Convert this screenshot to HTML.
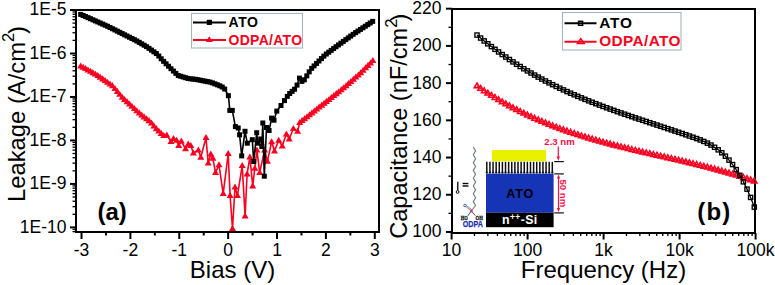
<!DOCTYPE html>
<html><head><meta charset="utf-8"><style>
html,body{margin:0;padding:0;background:#fff;width:775px;height:285px;overflow:hidden}
</style></head><body>
<svg width="775" height="285" viewBox="0 0 775 285" style="position:absolute;left:0;top:0">
<rect x="0" y="0" width="775" height="285" fill="#fff"/>
<g stroke="#000" stroke-width="2" fill="none">
<rect x="76" y="10" width="303" height="222"/>
<line x1="70" y1="10.00" x2="76" y2="10.00"/>
<line x1="70" y1="53.48" x2="76" y2="53.48"/>
<line x1="70" y1="96.96" x2="76" y2="96.96"/>
<line x1="70" y1="140.44" x2="76" y2="140.44"/>
<line x1="70" y1="183.92" x2="76" y2="183.92"/>
<line x1="70" y1="227.40" x2="76" y2="227.40"/>
</g>
<g stroke="#000" stroke-width="1.3" fill="none">
<line x1="72.5" y1="40.39" x2="76" y2="40.39"/>
<line x1="72.5" y1="32.73" x2="76" y2="32.73"/>
<line x1="72.5" y1="27.30" x2="76" y2="27.30"/>
<line x1="72.5" y1="23.09" x2="76" y2="23.09"/>
<line x1="72.5" y1="19.65" x2="76" y2="19.65"/>
<line x1="72.5" y1="16.74" x2="76" y2="16.74"/>
<line x1="72.5" y1="14.21" x2="76" y2="14.21"/>
<line x1="72.5" y1="11.99" x2="76" y2="11.99"/>
<line x1="72.5" y1="83.87" x2="76" y2="83.87"/>
<line x1="72.5" y1="76.21" x2="76" y2="76.21"/>
<line x1="72.5" y1="70.78" x2="76" y2="70.78"/>
<line x1="72.5" y1="66.57" x2="76" y2="66.57"/>
<line x1="72.5" y1="63.13" x2="76" y2="63.13"/>
<line x1="72.5" y1="60.22" x2="76" y2="60.22"/>
<line x1="72.5" y1="57.69" x2="76" y2="57.69"/>
<line x1="72.5" y1="55.47" x2="76" y2="55.47"/>
<line x1="72.5" y1="127.35" x2="76" y2="127.35"/>
<line x1="72.5" y1="119.69" x2="76" y2="119.69"/>
<line x1="72.5" y1="114.26" x2="76" y2="114.26"/>
<line x1="72.5" y1="110.05" x2="76" y2="110.05"/>
<line x1="72.5" y1="106.61" x2="76" y2="106.61"/>
<line x1="72.5" y1="103.70" x2="76" y2="103.70"/>
<line x1="72.5" y1="101.17" x2="76" y2="101.17"/>
<line x1="72.5" y1="98.95" x2="76" y2="98.95"/>
<line x1="72.5" y1="170.83" x2="76" y2="170.83"/>
<line x1="72.5" y1="163.17" x2="76" y2="163.17"/>
<line x1="72.5" y1="157.74" x2="76" y2="157.74"/>
<line x1="72.5" y1="153.53" x2="76" y2="153.53"/>
<line x1="72.5" y1="150.09" x2="76" y2="150.09"/>
<line x1="72.5" y1="147.18" x2="76" y2="147.18"/>
<line x1="72.5" y1="144.65" x2="76" y2="144.65"/>
<line x1="72.5" y1="142.43" x2="76" y2="142.43"/>
<line x1="72.5" y1="214.31" x2="76" y2="214.31"/>
<line x1="72.5" y1="206.65" x2="76" y2="206.65"/>
<line x1="72.5" y1="201.22" x2="76" y2="201.22"/>
<line x1="72.5" y1="197.01" x2="76" y2="197.01"/>
<line x1="72.5" y1="193.57" x2="76" y2="193.57"/>
<line x1="72.5" y1="190.66" x2="76" y2="190.66"/>
<line x1="72.5" y1="188.13" x2="76" y2="188.13"/>
<line x1="72.5" y1="185.91" x2="76" y2="185.91"/>
<line x1="72.5" y1="229.39" x2="76" y2="229.39"/>
<line x1="72.5" y1="231.61" x2="76" y2="231.61"/>
</g>
<g stroke="#000" stroke-width="2" fill="none">
<line x1="81.51" y1="232" x2="81.51" y2="239"/>
<line x1="130.39" y1="232" x2="130.39" y2="239"/>
<line x1="179.27" y1="232" x2="179.27" y2="239"/>
<line x1="228.15" y1="232" x2="228.15" y2="239"/>
<line x1="277.03" y1="232" x2="277.03" y2="239"/>
<line x1="325.91" y1="232" x2="325.91" y2="239"/>
<line x1="374.79" y1="232" x2="374.79" y2="239"/>
<line x1="105.95" y1="232" x2="105.95" y2="235.5"/>
<line x1="154.83" y1="232" x2="154.83" y2="235.5"/>
<line x1="203.71" y1="232" x2="203.71" y2="235.5"/>
<line x1="252.59" y1="232" x2="252.59" y2="235.5"/>
<line x1="301.47" y1="232" x2="301.47" y2="235.5"/>
<line x1="350.35" y1="232" x2="350.35" y2="235.5"/>
</g>
<g style="font-family:'Liberation Sans', sans-serif;font-size:17.5px" fill="#000" text-anchor="end">
<text x="66.5" y="15.40">1E-5</text>
<text x="66.5" y="58.88">1E-6</text>
<text x="66.5" y="102.36">1E-7</text>
<text x="66.5" y="145.84">1E-8</text>
<text x="66.5" y="189.32">1E-9</text>
<text x="66.5" y="232.80">1E-10</text>
</g>
<g style="font-family:'Liberation Sans', sans-serif;font-size:17.5px" fill="#000" text-anchor="middle">
<text x="81.51" y="256">-3</text>
<text x="130.39" y="256">-2</text>
<text x="179.27" y="256">-1</text>
<text x="228.15" y="256">0</text>
<text x="277.03" y="256">1</text>
<text x="325.91" y="256">2</text>
<text x="374.79" y="256">3</text>
</g>
<text x="232.5" y="278.1" text-anchor="middle" style="font-family:'Liberation Sans', sans-serif;font-size:24px">Bias (V)</text>
<text transform="translate(24.8,114) rotate(-90)" text-anchor="middle" style="font-family:'Liberation Sans', sans-serif;font-size:23.8px">Leakage (A/cm<tspan dy="-10.5" font-size="16.5">2</tspan><tspan dy="10.5" dx="-1.2">)</tspan></text>
<text x="97.5" y="220" style="font-family:'Liberation Sans', sans-serif;font-size:24px;font-weight:bold">(a)</text>
<g stroke="#000" stroke-width="2" fill="none">
<rect x="452" y="9" width="303" height="224"/>
<line x1="446" y1="231.96" x2="452" y2="231.96"/>
<line x1="446" y1="194.75" x2="452" y2="194.75"/>
<line x1="446" y1="157.54" x2="452" y2="157.54"/>
<line x1="446" y1="120.33" x2="452" y2="120.33"/>
<line x1="446" y1="83.12" x2="452" y2="83.12"/>
<line x1="446" y1="45.91" x2="452" y2="45.91"/>
<line x1="446" y1="8.70" x2="452" y2="8.70"/>
<line x1="451.60" y1="233" x2="451.60" y2="239.5"/>
<line x1="527.60" y1="233" x2="527.60" y2="239.5"/>
<line x1="603.60" y1="233" x2="603.60" y2="239.5"/>
<line x1="679.60" y1="233" x2="679.60" y2="239.5"/>
<line x1="755.60" y1="233" x2="755.60" y2="239.5"/>
</g>
<g stroke="#000" stroke-width="1.3" fill="none">
<line x1="448.5" y1="213.35" x2="452" y2="213.35"/>
<line x1="448.5" y1="176.14" x2="452" y2="176.14"/>
<line x1="448.5" y1="138.94" x2="452" y2="138.94"/>
<line x1="448.5" y1="101.73" x2="452" y2="101.73"/>
<line x1="448.5" y1="64.52" x2="452" y2="64.52"/>
<line x1="448.5" y1="27.30" x2="452" y2="27.30"/>
<line x1="474.48" y1="233" x2="474.48" y2="236"/>
<line x1="487.86" y1="233" x2="487.86" y2="236"/>
<line x1="497.36" y1="233" x2="497.36" y2="236"/>
<line x1="504.72" y1="233" x2="504.72" y2="236"/>
<line x1="510.74" y1="233" x2="510.74" y2="236"/>
<line x1="515.83" y1="233" x2="515.83" y2="236"/>
<line x1="520.23" y1="233" x2="520.23" y2="236"/>
<line x1="524.12" y1="233" x2="524.12" y2="236"/>
<line x1="550.48" y1="233" x2="550.48" y2="236"/>
<line x1="563.86" y1="233" x2="563.86" y2="236"/>
<line x1="573.36" y1="233" x2="573.36" y2="236"/>
<line x1="580.72" y1="233" x2="580.72" y2="236"/>
<line x1="586.74" y1="233" x2="586.74" y2="236"/>
<line x1="591.83" y1="233" x2="591.83" y2="236"/>
<line x1="596.23" y1="233" x2="596.23" y2="236"/>
<line x1="600.12" y1="233" x2="600.12" y2="236"/>
<line x1="626.48" y1="233" x2="626.48" y2="236"/>
<line x1="639.86" y1="233" x2="639.86" y2="236"/>
<line x1="649.36" y1="233" x2="649.36" y2="236"/>
<line x1="656.72" y1="233" x2="656.72" y2="236"/>
<line x1="662.74" y1="233" x2="662.74" y2="236"/>
<line x1="667.83" y1="233" x2="667.83" y2="236"/>
<line x1="672.23" y1="233" x2="672.23" y2="236"/>
<line x1="676.12" y1="233" x2="676.12" y2="236"/>
<line x1="702.48" y1="233" x2="702.48" y2="236"/>
<line x1="715.86" y1="233" x2="715.86" y2="236"/>
<line x1="725.36" y1="233" x2="725.36" y2="236"/>
<line x1="732.72" y1="233" x2="732.72" y2="236"/>
<line x1="738.74" y1="233" x2="738.74" y2="236"/>
<line x1="743.83" y1="233" x2="743.83" y2="236"/>
<line x1="748.23" y1="233" x2="748.23" y2="236"/>
<line x1="752.12" y1="233" x2="752.12" y2="236"/>
</g>
<g style="font-family:'Liberation Sans', sans-serif;font-size:17.5px" fill="#000" text-anchor="end">
<text x="441.5" y="237.36">100</text>
<text x="441.5" y="200.15">120</text>
<text x="441.5" y="162.94">140</text>
<text x="441.5" y="125.73">160</text>
<text x="441.5" y="88.52">180</text>
<text x="441.5" y="51.31">200</text>
<text x="441.5" y="14.10">220</text>
</g>
<g style="font-family:'Liberation Sans', sans-serif;font-size:17.5px" fill="#000" text-anchor="middle">
<text x="451.60" y="256">10</text>
<text x="527.60" y="256">100</text>
<text x="603.60" y="256">1k</text>
<text x="679.60" y="256">10k</text>
<text x="755.60" y="256">100k</text>
</g>
<text x="603.5" y="277.5" text-anchor="middle" style="font-family:'Liberation Sans', sans-serif;font-size:24px">Frequency (Hz)</text>
<text transform="translate(407.3,126.2) rotate(-90)" text-anchor="middle" style="font-family:'Liberation Sans', sans-serif;font-size:23.6px">Capacitance (nF/cm<tspan dy="-10.5" font-size="16.5">2</tspan><tspan dy="10.5" dx="-2.8">)</tspan></text>
<text x="697.3" y="220" style="font-family:'Liberation Sans', sans-serif;font-size:24px;font-weight:bold;letter-spacing:1.2px">(b)</text>
<g>
<polyline points="80.7,66.0 83.1,67.3 85.6,68.7 88.0,70.0 90.5,71.4 92.9,72.7 95.3,74.1 97.8,75.5 100.2,77.2 102.7,78.9 105.1,80.6 107.5,82.3 110.0,84.0 112.4,85.7 114.9,88.5 117.3,91.4 119.7,94.4 122.2,97.4 124.6,99.6 127.1,101.9 129.5,104.1 131.9,106.4 134.4,108.7 136.8,110.9 139.3,113.2 141.7,115.1 144.1,117.0 146.6,118.8 149.0,120.7 151.5,123.2 153.9,126.0 156.3,128.7 158.8,131.2 161.2,133.4 163.7,135.7 166.8,135.0 171.0,141.5 173.5,138.5 176.6,140.4 178.7,145.7 181.3,141.0 185.5,148.8 188.2,144.1 190.8,145.7 193.4,153.0 198.4,150.0 200.8,157.3 206.0,137.7 208.2,163.0 210.8,154.1 212.9,158.3 215.5,172.6 219.0,164.9 223.2,193.7 228.2,153.7 230.1,195.5 232.5,228.7 235.0,187.0 237.5,195.5 242.2,165.6 245.1,216.0 247.1,174.0 249.9,157.0 252.7,186.0 254.8,168.4 256.9,150.2 259.7,172.6 264.6,150.2 267.4,161.4 271.6,141.8 274.5,151.0 278.7,140.4 282.2,146.0 286.4,134.1 289.2,139.0 293.4,128.5 297.6,131.3 299.7,122.6 302.1,120.7 304.6,118.7 307.0,116.8 309.5,114.9 311.9,113.0 314.3,111.0 316.8,109.1 319.2,107.2 321.7,105.3 324.1,103.4 326.5,101.5 329.0,99.5 331.4,97.6 333.9,95.7 336.3,93.8 338.7,91.8 341.2,89.9 343.6,87.9 346.1,85.9 348.5,83.7 350.9,81.5 353.4,79.4 355.8,77.2 358.3,75.0 360.7,72.8 363.1,70.4 365.6,67.9 368.0,65.5 370.5,63.0 372.9,60.6" fill="none" stroke="#fa0020" stroke-width="1.6" stroke-linejoin="round"/>
<g fill="#fa0020"><path d="M80.7 62.4L84.2 68.4L77.2 68.4Z"/><path d="M83.1 63.7L86.6 69.8L79.6 69.8Z"/><path d="M85.6 65.1L89.1 71.1L82.1 71.1Z"/><path d="M88.0 66.4L91.5 72.5L84.5 72.5Z"/><path d="M90.5 67.8L94.0 73.8L87.0 73.8Z"/><path d="M92.9 69.1L96.4 75.2L89.4 75.2Z"/><path d="M95.3 70.4L98.8 76.5L91.8 76.5Z"/><path d="M97.8 71.9L101.3 78.0L94.3 78.0Z"/><path d="M100.2 73.6L103.7 79.7L96.7 79.7Z"/><path d="M102.7 75.3L106.2 81.4L99.2 81.4Z"/><path d="M105.1 77.0L108.6 83.1L101.6 83.1Z"/><path d="M107.5 78.7L111.0 84.8L104.0 84.8Z"/><path d="M110.0 80.4L113.5 86.5L106.5 86.5Z"/><path d="M112.4 82.1L115.9 88.2L108.9 88.2Z"/><path d="M114.9 84.9L118.4 90.9L111.4 90.9Z"/><path d="M117.3 87.8L120.8 93.9L113.8 93.9Z"/><path d="M119.7 90.8L123.2 96.8L116.2 96.8Z"/><path d="M122.2 93.7L125.7 99.8L118.7 99.8Z"/><path d="M124.6 96.0L128.1 102.1L121.1 102.1Z"/><path d="M127.1 98.3L130.6 104.3L123.6 104.3Z"/><path d="M129.5 100.5L133.0 106.6L126.0 106.6Z"/><path d="M131.9 102.8L135.4 108.8L128.4 108.8Z"/><path d="M134.4 105.0L137.9 111.1L130.9 111.1Z"/><path d="M136.8 107.3L140.3 113.3L133.3 113.3Z"/><path d="M139.3 109.5L142.8 115.6L135.8 115.6Z"/><path d="M141.7 111.4L145.2 117.5L138.2 117.5Z"/><path d="M144.1 113.3L147.6 119.4L140.6 119.4Z"/><path d="M146.6 115.2L150.1 121.3L143.1 121.3Z"/><path d="M149.0 117.1L152.5 123.2L145.5 123.2Z"/><path d="M151.5 119.5L155.0 125.6L148.0 125.6Z"/><path d="M153.9 122.3L157.4 128.4L150.4 128.4Z"/><path d="M156.3 125.1L159.8 131.2L152.8 131.2Z"/><path d="M158.8 127.5L162.3 133.6L155.3 133.6Z"/><path d="M161.2 129.8L164.7 135.9L157.7 135.9Z"/><path d="M163.7 132.1L167.2 138.1L160.2 138.1Z"/><path d="M166.8 131.4L170.3 137.4L163.3 137.4Z"/><path d="M171.0 137.9L174.5 143.9L167.5 143.9Z"/><path d="M173.5 134.9L177.0 140.9L170.0 140.9Z"/><path d="M176.6 136.8L180.1 142.8L173.1 142.8Z"/><path d="M178.7 142.1L182.2 148.1L175.2 148.1Z"/><path d="M181.3 137.4L184.8 143.4L177.8 143.4Z"/><path d="M185.5 145.2L189.0 151.2L182.0 151.2Z"/><path d="M188.2 140.5L191.7 146.5L184.7 146.5Z"/><path d="M190.8 142.1L194.3 148.1L187.3 148.1Z"/><path d="M193.4 149.4L196.9 155.4L189.9 155.4Z"/><path d="M198.4 146.4L201.9 152.4L194.9 152.4Z"/><path d="M200.8 153.7L204.3 159.7L197.3 159.7Z"/><path d="M206.0 134.1L209.5 140.1L202.5 140.1Z"/><path d="M208.2 159.4L211.7 165.4L204.7 165.4Z"/><path d="M210.8 150.5L214.3 156.5L207.3 156.5Z"/><path d="M212.9 154.7L216.4 160.7L209.4 160.7Z"/><path d="M215.5 169.0L219.0 175.0L212.0 175.0Z"/><path d="M219.0 161.3L222.5 167.3L215.5 167.3Z"/><path d="M223.2 190.1L226.7 196.1L219.7 196.1Z"/><path d="M228.2 150.1L231.7 156.1L224.7 156.1Z"/><path d="M230.1 191.9L233.6 197.9L226.6 197.9Z"/><path d="M232.5 225.1L236.0 231.1L229.0 231.1Z"/><path d="M235.0 183.4L238.5 189.4L231.5 189.4Z"/><path d="M237.5 191.9L241.0 197.9L234.0 197.9Z"/><path d="M242.2 162.0L245.7 168.0L238.7 168.0Z"/><path d="M245.1 212.4L248.6 218.4L241.6 218.4Z"/><path d="M247.1 170.4L250.6 176.4L243.6 176.4Z"/><path d="M249.9 153.4L253.4 159.4L246.4 159.4Z"/><path d="M252.7 182.4L256.2 188.4L249.2 188.4Z"/><path d="M254.8 164.8L258.3 170.8L251.3 170.8Z"/><path d="M256.9 146.6L260.4 152.6L253.4 152.6Z"/><path d="M259.7 169.0L263.2 175.0L256.2 175.0Z"/><path d="M264.6 146.6L268.1 152.6L261.1 152.6Z"/><path d="M267.4 157.8L270.9 163.8L263.9 163.8Z"/><path d="M271.6 138.2L275.1 144.2L268.1 144.2Z"/><path d="M274.5 147.4L278.0 153.4L271.0 153.4Z"/><path d="M278.7 136.8L282.2 142.8L275.2 142.8Z"/><path d="M282.2 142.4L285.7 148.4L278.7 148.4Z"/><path d="M286.4 130.5L289.9 136.5L282.9 136.5Z"/><path d="M289.2 135.4L292.7 141.4L285.7 141.4Z"/><path d="M293.4 124.9L296.9 130.9L289.9 130.9Z"/><path d="M297.6 127.7L301.1 133.7L294.1 133.7Z"/><path d="M299.7 119.0L303.2 125.0L296.2 125.0Z"/><path d="M302.1 117.0L305.6 123.1L298.6 123.1Z"/><path d="M304.6 115.1L308.1 121.2L301.1 121.2Z"/><path d="M307.0 113.2L310.5 119.2L303.5 119.2Z"/><path d="M309.5 111.3L313.0 117.3L306.0 117.3Z"/><path d="M311.9 109.3L315.4 115.4L308.4 115.4Z"/><path d="M314.3 107.4L317.8 113.5L310.8 113.5Z"/><path d="M316.8 105.5L320.3 111.5L313.3 111.5Z"/><path d="M319.2 103.6L322.7 109.6L315.7 109.6Z"/><path d="M321.7 101.6L325.2 107.7L318.2 107.7Z"/><path d="M324.1 99.7L327.6 105.8L320.6 105.8Z"/><path d="M326.5 97.8L330.0 103.9L323.0 103.9Z"/><path d="M329.0 95.9L332.5 102.0L325.5 102.0Z"/><path d="M331.4 94.0L334.9 100.1L327.9 100.1Z"/><path d="M333.9 92.1L337.4 98.1L330.4 98.1Z"/><path d="M336.3 90.1L339.8 96.2L332.8 96.2Z"/><path d="M338.7 88.2L342.2 94.2L335.2 94.2Z"/><path d="M341.2 86.2L344.7 92.3L337.7 92.3Z"/><path d="M343.6 84.3L347.1 90.3L340.1 90.3Z"/><path d="M346.1 82.2L349.6 88.3L342.6 88.3Z"/><path d="M348.5 80.1L352.0 86.1L345.0 86.1Z"/><path d="M350.9 77.9L354.4 84.0L347.4 84.0Z"/><path d="M353.4 75.7L356.9 81.8L349.9 81.8Z"/><path d="M355.8 73.6L359.3 79.6L352.3 79.6Z"/><path d="M358.3 71.4L361.8 77.5L354.8 77.5Z"/><path d="M360.7 69.2L364.2 75.2L357.2 75.2Z"/><path d="M363.1 66.7L366.6 72.8L359.6 72.8Z"/><path d="M365.6 64.3L369.1 70.3L362.1 70.3Z"/><path d="M368.0 61.8L371.5 67.9L364.5 67.9Z"/><path d="M370.5 59.4L374.0 65.5L367.0 65.5Z"/><path d="M372.9 57.0L376.4 63.0L369.4 63.0Z"/></g>
<polyline points="80.7,14.4 83.1,15.5 85.6,16.6 88.0,17.6 90.5,18.7 92.9,19.8 95.3,20.9 97.8,22.0 100.2,23.0 102.7,24.1 105.1,25.2 107.5,26.3 110.0,27.5 112.4,28.7 114.9,29.9 117.3,31.1 119.7,32.4 122.2,33.6 124.6,34.8 127.1,36.0 129.5,37.2 131.9,38.5 134.4,39.7 136.8,41.0 139.3,42.4 141.7,43.8 144.1,45.2 146.6,46.7 149.0,48.4 151.5,50.1 153.9,51.8 156.3,53.5 158.8,56.0 161.2,58.8 163.7,61.4 166.1,63.8 168.5,66.2 171.0,68.7 173.4,71.1 175.9,73.4 178.3,75.6 180.7,76.3 183.2,77.0 185.6,77.7 188.1,78.4 190.5,78.8 192.9,79.1 195.4,79.3 197.8,79.8 200.3,80.2 202.7,80.7 205.1,81.2 207.6,81.6 210.0,82.1 212.5,82.9 214.9,83.8 217.3,84.8 219.8,85.8 222.2,87.0 224.7,89.0 228.4,95.7 229.8,110.4 232.3,110.4 235.4,126.6 238.2,128.0 239.6,134.8 241.7,155.9 245.0,131.3 247.3,143.2 252.3,139.7 253.7,161.5 256.7,132.7 257.9,143.2 260.7,139.0 261.8,146.5 262.8,123.0 264.3,176.2 266.5,127.5 269.1,130.5 271.6,118.1 274.0,120.2 276.8,111.1 281.0,105.5 284.5,100.6 287.3,96.4 289.7,93.5 292.1,91.4 294.6,89.2 297.0,85.1 299.5,78.1 301.9,81.4 304.3,79.8 306.8,75.9 309.2,71.9 311.7,68.3 314.1,65.9 316.5,63.5 319.0,61.0 321.4,58.6 323.9,56.1 326.3,54.0 328.7,52.2 331.2,50.4 333.6,48.5 336.1,46.7 338.5,44.9 340.9,43.2 343.4,41.4 345.8,39.6 348.3,37.9 350.7,36.1 353.1,34.3 355.6,32.6 358.0,31.0 360.5,29.4 362.9,27.8 365.3,26.2 367.8,24.6 370.2,23.0 372.7,21.4" fill="none" stroke="#000" stroke-width="1.6" stroke-linejoin="round"/>
<g fill="#000"><rect x="78.20" y="11.90" width="5" height="5"/><rect x="80.64" y="12.98" width="5" height="5"/><rect x="83.08" y="14.06" width="5" height="5"/><rect x="85.52" y="15.14" width="5" height="5"/><rect x="87.96" y="16.22" width="5" height="5"/><rect x="90.40" y="17.30" width="5" height="5"/><rect x="92.84" y="18.38" width="5" height="5"/><rect x="95.28" y="19.46" width="5" height="5"/><rect x="97.72" y="20.54" width="5" height="5"/><rect x="100.16" y="21.61" width="5" height="5"/><rect x="102.60" y="22.69" width="5" height="5"/><rect x="105.04" y="23.77" width="5" height="5"/><rect x="107.48" y="24.99" width="5" height="5"/><rect x="109.92" y="26.21" width="5" height="5"/><rect x="112.36" y="27.43" width="5" height="5"/><rect x="114.80" y="28.65" width="5" height="5"/><rect x="117.24" y="29.87" width="5" height="5"/><rect x="119.68" y="31.09" width="5" height="5"/><rect x="122.12" y="32.31" width="5" height="5"/><rect x="124.56" y="33.53" width="5" height="5"/><rect x="127.00" y="34.75" width="5" height="5"/><rect x="129.44" y="35.97" width="5" height="5"/><rect x="131.88" y="37.19" width="5" height="5"/><rect x="134.32" y="38.48" width="5" height="5"/><rect x="136.76" y="39.89" width="5" height="5"/><rect x="139.20" y="41.31" width="5" height="5"/><rect x="141.64" y="42.73" width="5" height="5"/><rect x="144.08" y="44.16" width="5" height="5"/><rect x="146.52" y="45.88" width="5" height="5"/><rect x="148.96" y="47.60" width="5" height="5"/><rect x="151.40" y="49.32" width="5" height="5"/><rect x="153.84" y="51.03" width="5" height="5"/><rect x="156.28" y="53.52" width="5" height="5"/><rect x="158.72" y="56.28" width="5" height="5"/><rect x="161.16" y="58.86" width="5" height="5"/><rect x="163.60" y="61.30" width="5" height="5"/><rect x="166.04" y="63.74" width="5" height="5"/><rect x="168.48" y="66.18" width="5" height="5"/><rect x="170.92" y="68.58" width="5" height="5"/><rect x="173.36" y="70.89" width="5" height="5"/><rect x="175.80" y="73.06" width="5" height="5"/><rect x="178.24" y="73.78" width="5" height="5"/><rect x="180.68" y="74.50" width="5" height="5"/><rect x="183.12" y="75.22" width="5" height="5"/><rect x="185.56" y="75.94" width="5" height="5"/><rect x="188.00" y="76.31" width="5" height="5"/><rect x="190.44" y="76.57" width="5" height="5"/><rect x="192.88" y="76.83" width="5" height="5"/><rect x="195.32" y="77.25" width="5" height="5"/><rect x="197.76" y="77.72" width="5" height="5"/><rect x="200.20" y="78.20" width="5" height="5"/><rect x="202.64" y="78.67" width="5" height="5"/><rect x="205.08" y="79.14" width="5" height="5"/><rect x="207.52" y="79.61" width="5" height="5"/><rect x="209.96" y="80.38" width="5" height="5"/><rect x="212.40" y="81.35" width="5" height="5"/><rect x="214.84" y="82.31" width="5" height="5"/><rect x="217.28" y="83.28" width="5" height="5"/><rect x="219.72" y="84.51" width="5" height="5"/><rect x="222.16" y="86.53" width="5" height="5"/><rect x="225.90" y="93.20" width="5" height="5"/><rect x="227.30" y="107.90" width="5" height="5"/><rect x="229.80" y="107.90" width="5" height="5"/><rect x="232.90" y="124.10" width="5" height="5"/><rect x="235.70" y="125.50" width="5" height="5"/><rect x="237.10" y="132.30" width="5" height="5"/><rect x="239.20" y="153.40" width="5" height="5"/><rect x="242.50" y="128.80" width="5" height="5"/><rect x="244.80" y="140.70" width="5" height="5"/><rect x="249.80" y="137.20" width="5" height="5"/><rect x="251.20" y="159.00" width="5" height="5"/><rect x="254.20" y="130.20" width="5" height="5"/><rect x="255.40" y="140.70" width="5" height="5"/><rect x="258.20" y="136.50" width="5" height="5"/><rect x="259.30" y="144.00" width="5" height="5"/><rect x="260.30" y="120.50" width="5" height="5"/><rect x="261.80" y="173.70" width="5" height="5"/><rect x="264.00" y="125.00" width="5" height="5"/><rect x="266.60" y="128.00" width="5" height="5"/><rect x="269.10" y="115.60" width="5" height="5"/><rect x="271.50" y="117.70" width="5" height="5"/><rect x="274.30" y="108.60" width="5" height="5"/><rect x="278.50" y="103.00" width="5" height="5"/><rect x="282.00" y="98.10" width="5" height="5"/><rect x="284.80" y="93.90" width="5" height="5"/><rect x="287.20" y="91.00" width="5" height="5"/><rect x="289.64" y="88.87" width="5" height="5"/><rect x="292.08" y="86.74" width="5" height="5"/><rect x="294.52" y="82.59" width="5" height="5"/><rect x="296.96" y="75.61" width="5" height="5"/><rect x="299.40" y="78.87" width="5" height="5"/><rect x="301.84" y="77.33" width="5" height="5"/><rect x="304.28" y="73.36" width="5" height="5"/><rect x="306.72" y="69.40" width="5" height="5"/><rect x="309.16" y="65.84" width="5" height="5"/><rect x="311.60" y="63.40" width="5" height="5"/><rect x="314.04" y="60.96" width="5" height="5"/><rect x="316.48" y="58.52" width="5" height="5"/><rect x="318.92" y="56.08" width="5" height="5"/><rect x="321.36" y="53.64" width="5" height="5"/><rect x="323.80" y="51.53" width="5" height="5"/><rect x="326.24" y="49.70" width="5" height="5"/><rect x="328.68" y="47.87" width="5" height="5"/><rect x="331.12" y="46.04" width="5" height="5"/><rect x="333.56" y="44.21" width="5" height="5"/><rect x="336.00" y="42.42" width="5" height="5"/><rect x="338.44" y="40.65" width="5" height="5"/><rect x="340.88" y="38.89" width="5" height="5"/><rect x="343.32" y="37.13" width="5" height="5"/><rect x="345.76" y="35.37" width="5" height="5"/><rect x="348.20" y="33.61" width="5" height="5"/><rect x="350.64" y="31.84" width="5" height="5"/><rect x="353.08" y="30.12" width="5" height="5"/><rect x="355.52" y="28.51" width="5" height="5"/><rect x="357.96" y="26.91" width="5" height="5"/><rect x="360.40" y="25.30" width="5" height="5"/><rect x="362.84" y="23.70" width="5" height="5"/><rect x="365.28" y="22.09" width="5" height="5"/><rect x="367.72" y="20.49" width="5" height="5"/><rect x="370.16" y="18.88" width="5" height="5"/></g>
</g>
<rect x="191.5" y="13.5" width="111" height="34.5" fill="#fff" stroke="#a8b4bc" stroke-width="1.1"/>
<line x1="193" y1="22.4" x2="226" y2="22.4" stroke="#000" stroke-width="2"/>
<rect x="206.7" y="19.8" width="5.3" height="5.3" rx="0.8" fill="#000"/>
<line x1="193" y1="40" x2="226" y2="40" stroke="#fa0020" stroke-width="2"/>
<path d="M209.3 36.2L212.8 42L205.8 42Z" fill="#fa0020"/>
<text x="228.5" y="27.4" style="font-family:'Liberation Sans', sans-serif;font-size:14px;font-weight:bold;letter-spacing:0.6px" fill="#000">ATO</text>
<text x="228.5" y="44.5" style="font-family:'Liberation Sans', sans-serif;font-size:14px;font-weight:bold;letter-spacing:0.28px" fill="#fa0020">ODPA/ATO</text>
<polyline points="477.0,85.9 480.6,88.3 484.2,90.7 487.8,93.1 491.4,95.3 495.0,97.5 498.6,99.7 502.2,101.8 505.8,103.8 509.4,105.8 513.0,107.7 516.6,109.6 520.2,111.4 523.8,113.2 527.4,114.9 531.0,116.6 534.6,118.2 538.2,119.8 541.8,121.4 545.4,122.8 549.0,124.3 552.6,125.7 556.2,127.1 559.8,128.4 563.4,129.7 567.0,131.0 570.6,132.3 574.2,133.5 577.8,134.6 581.4,135.8 585.0,136.9 588.6,138.0 592.2,139.1 595.8,140.1 599.4,141.1 603.0,142.1 606.6,143.1 610.2,144.0 613.8,145.0 617.4,145.9 621.0,146.8 624.6,147.7 628.2,148.6 631.8,149.4 635.4,150.3 639.0,151.1 642.6,152.0 646.2,152.8 649.8,153.6 653.4,154.4 657.0,155.3 660.6,156.1 664.2,156.9 667.8,157.7 671.4,158.5 675.0,159.4 678.6,160.2 682.2,161.0 685.8,161.9 689.4,162.7 693.0,163.6 696.6,164.5 700.2,165.3 703.8,166.2 707.4,167.2 711.0,168.1 714.6,169.0 718.2,170.0 721.8,171.0 725.4,172.0 729.0,173.0 732.6,174.1 736.2,175.2 739.8,176.3 743.4,177.4 747.0,178.6 750.6,179.8 754.2,181.0" fill="none" stroke="#fa0020" stroke-width="1.3" stroke-linejoin="round"/>
<g fill="none" stroke="#fa0020" stroke-width="1.5"><path d="M477.0 83.0L479.8 87.8L474.2 87.8Z"/><path d="M480.6 85.4L483.4 90.3L477.8 90.3Z"/><path d="M484.2 87.8L487.0 92.7L481.4 92.7Z"/><path d="M487.8 90.2L490.6 95.0L485.0 95.0Z"/><path d="M491.4 92.4L494.2 97.3L488.6 97.3Z"/><path d="M495.0 94.6L497.8 99.5L492.2 99.5Z"/><path d="M498.6 96.8L501.4 101.6L495.8 101.6Z"/><path d="M502.2 98.9L505.0 103.7L499.4 103.7Z"/><path d="M505.8 100.9L508.6 105.8L503.0 105.8Z"/><path d="M509.4 102.9L512.2 107.7L506.6 107.7Z"/><path d="M513.0 104.8L515.8 109.7L510.2 109.7Z"/><path d="M516.6 106.7L519.4 111.5L513.8 111.5Z"/><path d="M520.2 108.5L523.0 113.4L517.4 113.4Z"/><path d="M523.8 110.3L526.6 115.1L521.0 115.1Z"/><path d="M527.4 112.0L530.2 116.9L524.6 116.9Z"/><path d="M531.0 113.7L533.8 118.5L528.2 118.5Z"/><path d="M534.6 115.3L537.4 120.2L531.8 120.2Z"/><path d="M538.2 116.9L541.0 121.7L535.4 121.7Z"/><path d="M541.8 118.4L544.6 123.3L539.0 123.3Z"/><path d="M545.4 119.9L548.2 124.8L542.6 124.8Z"/><path d="M549.0 121.4L551.8 126.2L546.2 126.2Z"/><path d="M552.6 122.8L555.4 127.7L549.8 127.7Z"/><path d="M556.2 124.2L559.0 129.0L553.4 129.0Z"/><path d="M559.8 125.5L562.6 130.4L557.0 130.4Z"/><path d="M563.4 126.8L566.2 131.7L560.6 131.7Z"/><path d="M567.0 128.1L569.8 133.0L564.2 133.0Z"/><path d="M570.6 129.3L573.4 134.2L567.8 134.2Z"/><path d="M574.2 130.6L577.0 135.4L571.4 135.4Z"/><path d="M577.8 131.7L580.6 136.6L575.0 136.6Z"/><path d="M581.4 132.9L584.2 137.7L578.6 137.7Z"/><path d="M585.0 134.0L587.8 138.8L582.2 138.8Z"/><path d="M588.6 135.1L591.4 139.9L585.8 139.9Z"/><path d="M592.2 136.1L595.0 141.0L589.4 141.0Z"/><path d="M595.8 137.2L598.6 142.0L593.0 142.0Z"/><path d="M599.4 138.2L602.2 143.0L596.6 143.0Z"/><path d="M603.0 139.2L605.8 144.0L600.2 144.0Z"/><path d="M606.6 140.2L609.4 145.0L603.8 145.0Z"/><path d="M610.2 141.1L613.0 146.0L607.4 146.0Z"/><path d="M613.8 142.1L616.6 146.9L611.0 146.9Z"/><path d="M617.4 143.0L620.2 147.8L614.6 147.8Z"/><path d="M621.0 143.9L623.8 148.7L618.2 148.7Z"/><path d="M624.6 144.8L627.4 149.6L621.8 149.6Z"/><path d="M628.2 145.6L631.0 150.5L625.4 150.5Z"/><path d="M631.8 146.5L634.6 151.4L629.0 151.4Z"/><path d="M635.4 147.4L638.2 152.2L632.6 152.2Z"/><path d="M639.0 148.2L641.8 153.1L636.2 153.1Z"/><path d="M642.6 149.1L645.4 153.9L639.8 153.9Z"/><path d="M646.2 149.9L649.0 154.7L643.4 154.7Z"/><path d="M649.8 150.7L652.6 155.6L647.0 155.6Z"/><path d="M653.4 151.5L656.2 156.4L650.6 156.4Z"/><path d="M657.0 152.3L659.8 157.2L654.2 157.2Z"/><path d="M660.6 153.2L663.4 158.0L657.8 158.0Z"/><path d="M664.2 154.0L667.0 158.8L661.4 158.8Z"/><path d="M667.8 154.8L670.6 159.7L665.0 159.7Z"/><path d="M671.4 155.6L674.2 160.5L668.6 160.5Z"/><path d="M675.0 156.4L677.8 161.3L672.2 161.3Z"/><path d="M678.6 157.3L681.4 162.1L675.8 162.1Z"/><path d="M682.2 158.1L685.0 163.0L679.4 163.0Z"/><path d="M685.8 159.0L688.6 163.8L683.0 163.8Z"/><path d="M689.4 159.8L692.2 164.7L686.6 164.7Z"/><path d="M693.0 160.7L695.8 165.5L690.2 165.5Z"/><path d="M696.6 161.5L699.4 166.4L693.8 166.4Z"/><path d="M700.2 162.4L703.0 167.3L697.4 167.3Z"/><path d="M703.8 163.3L706.6 168.2L701.0 168.2Z"/><path d="M707.4 164.2L710.2 169.1L704.6 169.1Z"/><path d="M711.0 165.2L713.8 170.0L708.2 170.0Z"/><path d="M714.6 166.1L717.4 171.0L711.8 171.0Z"/><path d="M718.2 167.1L721.0 171.9L715.4 171.9Z"/><path d="M721.8 168.1L724.6 172.9L719.0 172.9Z"/><path d="M725.4 169.1L728.2 173.9L722.6 173.9Z"/><path d="M729.0 170.1L731.8 175.0L726.2 175.0Z"/><path d="M732.6 171.2L735.4 176.0L729.8 176.0Z"/><path d="M736.2 172.3L739.0 177.1L733.4 177.1Z"/><path d="M739.8 173.4L742.6 178.2L737.0 178.2Z"/><path d="M743.4 174.5L746.2 179.4L740.6 179.4Z"/><path d="M747.0 175.7L749.8 180.5L744.2 180.5Z"/><path d="M750.6 176.9L753.4 181.7L747.8 181.7Z"/><path d="M754.2 178.1L757.0 183.0L751.4 183.0Z"/></g>
<polyline points="477.0,35.0 480.6,38.0 484.2,41.0 487.8,43.8 491.4,46.6 495.0,49.3 498.6,52.0 502.2,54.5 505.8,57.1 509.4,59.5 513.0,61.9 516.6,64.2 520.2,66.5 523.8,68.7 527.4,70.9 531.0,73.0 534.6,75.1 538.2,77.1 541.8,79.1 545.4,81.0 549.0,82.8 552.6,84.7 556.2,86.5 559.8,88.2 563.4,89.9 567.0,91.6 570.6,93.2 574.2,94.8 577.8,96.3 581.4,97.9 585.0,99.4 588.6,100.8 592.2,102.3 595.8,103.7 599.4,105.1 603.0,106.4 606.6,107.8 610.2,109.1 613.8,110.4 617.4,111.7 621.0,112.9 624.6,114.2 628.2,115.4 631.8,116.7 635.4,117.9 639.0,119.1 642.6,120.3 646.2,121.5 649.8,122.7 653.4,123.9 657.0,125.1 660.6,126.3 664.2,127.5 667.8,128.7 671.4,129.9 675.0,131.1 678.6,132.3 682.2,133.5 685.8,134.7 689.4,136.0 693.0,137.3 696.6,138.6 700.2,139.9 703.8,141.4 707.4,143.1 711.0,145.1 714.6,147.3 718.2,149.8 721.8,152.8 725.4,156.2 729.0,160.1 732.6,164.6 736.2,169.6 739.8,175.4 743.4,181.8 747.0,189.1 750.6,197.4 754.3,207.1" fill="none" stroke="#000" stroke-width="1.3" stroke-linejoin="round"/>
<g fill="none" stroke="#000" stroke-width="1.35"><rect x="474.90" y="32.95" width="4.2" height="4.2"/><rect x="478.50" y="35.94" width="4.2" height="4.2"/><rect x="482.10" y="38.86" width="4.2" height="4.2"/><rect x="485.70" y="41.72" width="4.2" height="4.2"/><rect x="489.30" y="44.50" width="4.2" height="4.2"/><rect x="492.90" y="47.21" width="4.2" height="4.2"/><rect x="496.50" y="49.85" width="4.2" height="4.2"/><rect x="500.10" y="52.44" width="4.2" height="4.2"/><rect x="503.70" y="54.95" width="4.2" height="4.2"/><rect x="507.30" y="57.41" width="4.2" height="4.2"/><rect x="510.90" y="59.80" width="4.2" height="4.2"/><rect x="514.50" y="62.14" width="4.2" height="4.2"/><rect x="518.10" y="64.42" width="4.2" height="4.2"/><rect x="521.70" y="66.64" width="4.2" height="4.2"/><rect x="525.30" y="68.81" width="4.2" height="4.2"/><rect x="528.90" y="70.92" width="4.2" height="4.2"/><rect x="532.50" y="72.98" width="4.2" height="4.2"/><rect x="536.10" y="75.00" width="4.2" height="4.2"/><rect x="539.70" y="76.96" width="4.2" height="4.2"/><rect x="543.30" y="78.88" width="4.2" height="4.2"/><rect x="546.90" y="80.75" width="4.2" height="4.2"/><rect x="550.50" y="82.57" width="4.2" height="4.2"/><rect x="554.10" y="84.36" width="4.2" height="4.2"/><rect x="557.70" y="86.10" width="4.2" height="4.2"/><rect x="561.30" y="87.80" width="4.2" height="4.2"/><rect x="564.90" y="89.47" width="4.2" height="4.2"/><rect x="568.50" y="91.09" width="4.2" height="4.2"/><rect x="572.10" y="92.68" width="4.2" height="4.2"/><rect x="575.70" y="94.24" width="4.2" height="4.2"/><rect x="579.30" y="95.77" width="4.2" height="4.2"/><rect x="582.90" y="97.26" width="4.2" height="4.2"/><rect x="586.50" y="98.73" width="4.2" height="4.2"/><rect x="590.10" y="100.17" width="4.2" height="4.2"/><rect x="593.70" y="101.58" width="4.2" height="4.2"/><rect x="597.30" y="102.97" width="4.2" height="4.2"/><rect x="600.90" y="104.33" width="4.2" height="4.2"/><rect x="604.50" y="105.67" width="4.2" height="4.2"/><rect x="608.10" y="106.99" width="4.2" height="4.2"/><rect x="611.70" y="108.29" width="4.2" height="4.2"/><rect x="615.30" y="109.58" width="4.2" height="4.2"/><rect x="618.90" y="110.85" width="4.2" height="4.2"/><rect x="622.50" y="112.10" width="4.2" height="4.2"/><rect x="626.10" y="113.34" width="4.2" height="4.2"/><rect x="629.70" y="114.57" width="4.2" height="4.2"/><rect x="633.30" y="115.79" width="4.2" height="4.2"/><rect x="636.90" y="117.00" width="4.2" height="4.2"/><rect x="640.50" y="118.21" width="4.2" height="4.2"/><rect x="644.10" y="119.41" width="4.2" height="4.2"/><rect x="647.70" y="120.60" width="4.2" height="4.2"/><rect x="651.30" y="121.79" width="4.2" height="4.2"/><rect x="654.90" y="122.98" width="4.2" height="4.2"/><rect x="658.50" y="124.17" width="4.2" height="4.2"/><rect x="662.10" y="125.37" width="4.2" height="4.2"/><rect x="665.70" y="126.56" width="4.2" height="4.2"/><rect x="669.30" y="127.77" width="4.2" height="4.2"/><rect x="672.90" y="128.97" width="4.2" height="4.2"/><rect x="676.50" y="130.19" width="4.2" height="4.2"/><rect x="680.10" y="131.41" width="4.2" height="4.2"/><rect x="683.70" y="132.65" width="4.2" height="4.2"/><rect x="687.30" y="133.90" width="4.2" height="4.2"/><rect x="690.90" y="135.16" width="4.2" height="4.2"/><rect x="694.50" y="136.45" width="4.2" height="4.2"/><rect x="698.10" y="137.83" width="4.2" height="4.2"/><rect x="701.70" y="139.33" width="4.2" height="4.2"/><rect x="705.30" y="141.03" width="4.2" height="4.2"/><rect x="708.90" y="142.96" width="4.2" height="4.2"/><rect x="712.50" y="145.18" width="4.2" height="4.2"/><rect x="716.10" y="147.74" width="4.2" height="4.2"/><rect x="719.70" y="150.70" width="4.2" height="4.2"/><rect x="723.30" y="154.10" width="4.2" height="4.2"/><rect x="726.90" y="158.01" width="4.2" height="4.2"/><rect x="730.50" y="162.47" width="4.2" height="4.2"/><rect x="734.10" y="167.53" width="4.2" height="4.2"/><rect x="737.70" y="173.25" width="4.2" height="4.2"/><rect x="741.30" y="179.71" width="4.2" height="4.2"/><rect x="744.90" y="187.03" width="4.2" height="4.2"/><rect x="748.50" y="195.31" width="4.2" height="4.2"/><rect x="752.20" y="204.96" width="4.2" height="4.2"/></g>
<rect x="562.5" y="12.5" width="118.5" height="37.5" fill="#fff" stroke="#a8b4bc" stroke-width="1.1"/>
<line x1="564.5" y1="23.3" x2="596.5" y2="23.3" stroke="#000" stroke-width="2"/>
<rect x="578.6" y="21.3" width="4" height="4" fill="none" stroke="#000" stroke-width="1.5"/>
<line x1="564.5" y1="41.7" x2="596.5" y2="41.7" stroke="#fa0020" stroke-width="2"/>
<path d="M580.8 38.6L584.2 43.6L577.4 43.6Z" fill="none" stroke="#fa0020" stroke-width="1.5"/>
<text x="599.3" y="27.7" style="font-family:'Liberation Sans', sans-serif;font-size:15.4px;font-weight:bold;letter-spacing:0.8px" fill="#000">ATO</text>
<text x="599.3" y="45.9" style="font-family:'Liberation Sans', sans-serif;font-size:15.4px;font-weight:bold;letter-spacing:0.35px" fill="#fa0020">ODPA/ATO</text>
<g>
<rect x="492" y="150" width="54" height="11.3" fill="#e8f200"/>
<line x1="486.80" y1="161.8" x2="486.80" y2="172.5" stroke="#101010" stroke-width="1.5"/>
<circle cx="486.80" cy="172.6" r="1.15" fill="#101010"/>
<line x1="489.92" y1="161.8" x2="489.92" y2="172.5" stroke="#101010" stroke-width="1.5"/>
<circle cx="489.92" cy="172.6" r="1.15" fill="#101010"/>
<line x1="493.04" y1="161.8" x2="493.04" y2="172.5" stroke="#101010" stroke-width="1.5"/>
<circle cx="493.04" cy="172.6" r="1.15" fill="#101010"/>
<line x1="496.16" y1="161.8" x2="496.16" y2="172.5" stroke="#101010" stroke-width="1.5"/>
<circle cx="496.16" cy="172.6" r="1.15" fill="#101010"/>
<line x1="499.28" y1="161.8" x2="499.28" y2="172.5" stroke="#101010" stroke-width="1.5"/>
<circle cx="499.28" cy="172.6" r="1.15" fill="#101010"/>
<line x1="502.40" y1="161.8" x2="502.40" y2="172.5" stroke="#101010" stroke-width="1.5"/>
<circle cx="502.40" cy="172.6" r="1.15" fill="#101010"/>
<line x1="505.52" y1="161.8" x2="505.52" y2="172.5" stroke="#101010" stroke-width="1.5"/>
<circle cx="505.52" cy="172.6" r="1.15" fill="#101010"/>
<line x1="508.64" y1="161.8" x2="508.64" y2="172.5" stroke="#101010" stroke-width="1.5"/>
<circle cx="508.64" cy="172.6" r="1.15" fill="#101010"/>
<line x1="511.76" y1="161.8" x2="511.76" y2="172.5" stroke="#101010" stroke-width="1.5"/>
<circle cx="511.76" cy="172.6" r="1.15" fill="#101010"/>
<line x1="514.88" y1="161.8" x2="514.88" y2="172.5" stroke="#101010" stroke-width="1.5"/>
<circle cx="514.88" cy="172.6" r="1.15" fill="#101010"/>
<line x1="518.00" y1="161.8" x2="518.00" y2="172.5" stroke="#101010" stroke-width="1.5"/>
<circle cx="518.00" cy="172.6" r="1.15" fill="#101010"/>
<line x1="521.12" y1="161.8" x2="521.12" y2="172.5" stroke="#101010" stroke-width="1.5"/>
<circle cx="521.12" cy="172.6" r="1.15" fill="#101010"/>
<line x1="524.24" y1="161.8" x2="524.24" y2="172.5" stroke="#101010" stroke-width="1.5"/>
<circle cx="524.24" cy="172.6" r="1.15" fill="#101010"/>
<line x1="527.36" y1="161.8" x2="527.36" y2="172.5" stroke="#101010" stroke-width="1.5"/>
<circle cx="527.36" cy="172.6" r="1.15" fill="#101010"/>
<line x1="530.48" y1="161.8" x2="530.48" y2="172.5" stroke="#101010" stroke-width="1.5"/>
<circle cx="530.48" cy="172.6" r="1.15" fill="#101010"/>
<line x1="533.60" y1="161.8" x2="533.60" y2="172.5" stroke="#101010" stroke-width="1.5"/>
<circle cx="533.60" cy="172.6" r="1.15" fill="#101010"/>
<line x1="536.72" y1="161.8" x2="536.72" y2="172.5" stroke="#101010" stroke-width="1.5"/>
<circle cx="536.72" cy="172.6" r="1.15" fill="#101010"/>
<line x1="539.84" y1="161.8" x2="539.84" y2="172.5" stroke="#101010" stroke-width="1.5"/>
<circle cx="539.84" cy="172.6" r="1.15" fill="#101010"/>
<line x1="542.96" y1="161.8" x2="542.96" y2="172.5" stroke="#101010" stroke-width="1.5"/>
<circle cx="542.96" cy="172.6" r="1.15" fill="#101010"/>
<line x1="546.08" y1="161.8" x2="546.08" y2="172.5" stroke="#101010" stroke-width="1.5"/>
<circle cx="546.08" cy="172.6" r="1.15" fill="#101010"/>
<line x1="549.20" y1="161.8" x2="549.20" y2="172.5" stroke="#101010" stroke-width="1.5"/>
<circle cx="549.20" cy="172.6" r="1.15" fill="#101010"/>
<line x1="552.32" y1="161.8" x2="552.32" y2="172.5" stroke="#101010" stroke-width="1.5"/>
<circle cx="552.32" cy="172.6" r="1.15" fill="#101010"/>
<rect x="486" y="173.6" width="67.6" height="39.2" fill="#1634b6"/>
<rect x="486" y="212.8" width="67.6" height="14.4" fill="#000"/>
<text x="520.1" y="197.6" text-anchor="middle" style="font-family:'Liberation Sans', sans-serif;font-size:12.6px;font-weight:bold;letter-spacing:0.8px" fill="#000">ATO</text>
<text x="519.8" y="224.1" text-anchor="middle" style="font-family:'Liberation Sans', sans-serif;font-size:12.4px;font-weight:bold;letter-spacing:0.3px" fill="#fff">n<tspan dy="-3.8" font-size="8.4" letter-spacing="0.6">++</tspan><tspan dy="3.8">-Si</tspan></text>
<line x1="554.2" y1="161.6" x2="563.8" y2="161.6" stroke="#111" stroke-width="1.2"/>
<line x1="554.2" y1="173.9" x2="563.8" y2="173.9" stroke="#111" stroke-width="1.2"/>
<line x1="554.2" y1="212.9" x2="563.8" y2="212.9" stroke="#111" stroke-width="1.2"/>
<line x1="558.3" y1="146.5" x2="558.3" y2="158" stroke="#f4104a" stroke-width="1.2"/>
<path d="M556.6 156.5L560 156.5L558.3 160.8Z" fill="#f4104a"/>
<line x1="558.5" y1="177" x2="558.5" y2="209.5" stroke="#f4104a" stroke-width="1.2"/>
<path d="M556.8 178.5L560.2 178.5L558.5 174.5Z" fill="#f4104a"/>
<path d="M556.8 208L560.2 208L558.5 212Z" fill="#f4104a"/>
<text x="559.5" y="145.4" text-anchor="middle" style="font-family:'Liberation Sans', sans-serif;font-size:9.6px;font-weight:bold" fill="#f4104a">2.3 nm</text>
<text transform="translate(560.3,193.3) rotate(90)" text-anchor="middle" style="font-family:'Liberation Sans', sans-serif;font-size:9.6px;font-weight:bold" fill="#f4104a">50 nm</text>
<path d="M473.3 147 L475.6 150.9 L473.3 154.8 L475.6 158.7 L473.3 162.6 L475.6 166.5 L473.3 170.4 L475.6 174.3 L473.3 178.2 L475.6 182.1 L473.3 186.0 L475.6 189.9 L473.3 193.8 L475.6 197.7 L473.3 201.6 L475.6 205.5 L471.3 211" fill="none" stroke="#708088" stroke-width="1.2" stroke-linejoin="round"/>
<path d="M465.8 206.5L470.8 210.5M466.6 205.6L471.6 209.6" stroke="#506070" stroke-width="0.7" fill="none"/>
<path d="M471.3 211L467.8 215.8M471.3 211L475.4 215.6" stroke="#303840" stroke-width="0.9" fill="none"/>
<circle cx="471.3" cy="211" r="1.4" fill="#f03070"/>
<circle cx="465" cy="205.5" r="1.3" fill="none" stroke="#3040a0" stroke-width="0.8"/>
<text x="460.7" y="219.6" textLength="6.9" lengthAdjust="spacingAndGlyphs" style="font-family:'Liberation Serif',serif;font-size:6.4px;font-weight:bold;stroke:#101418;stroke-width:0.3" fill="#101418">HO</text>
<text x="475.6" y="219.6" textLength="7.3" lengthAdjust="spacingAndGlyphs" style="font-family:'Liberation Serif',serif;font-size:6.4px;font-weight:bold;stroke:#101418;stroke-width:0.3" fill="#101418">OH</text>
<text x="462.7" y="226.9" textLength="20.2" lengthAdjust="spacingAndGlyphs" style="font-family:'Liberation Sans', sans-serif;font-size:9px;font-weight:bold;stroke:#1c30b0;stroke-width:0.25" fill="#1c30b0">ODPA</text>
<rect x="462.6" y="182.8" width="5.8" height="1.4" fill="#000"/>
<rect x="462.6" y="185.3" width="5.8" height="1.4" fill="#000"/>
<line x1="457.8" y1="181.8" x2="457.8" y2="190.6" stroke="#000" stroke-width="1.3"/>
<circle cx="457.6" cy="192" r="1.4" fill="none" stroke="#000" stroke-width="1"/>
</g>
</svg>
</body></html>
